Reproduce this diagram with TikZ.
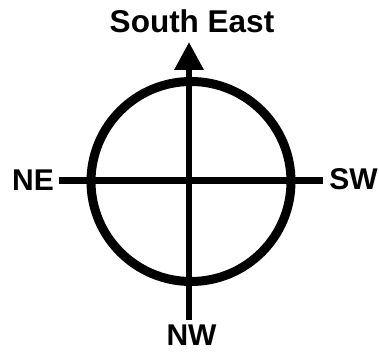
\documentclass[tikz,border=0pt]{standalone}
\usepackage{fontspec}
\setmainfont{Liberation Sans}
\usetikzlibrary{arrows.meta}
\begin{document}
\begin{tikzpicture}[x=1pt,y=1pt,
  lbl/.style={font=\fontsize{30}{30}\selectfont\bfseries, inner sep=0pt, anchor=base},
  axis/.style={line width=6.5pt}]
\useasboundingbox (0,0) rectangle (379,351);
\node[draw, circle, line width=9pt, minimum size=200pt, inner sep=0pt] (ring) at (191,169.5) {};
\coordinate (w) at (59,170.5);
\coordinate (e) at (323,170.5);
\coordinate (s) at (189,31);
\coordinate (n) at (189,309);
\draw[axis] (w) -- (e);
\draw[axis, -{Triangle[length=28pt,width=28pt]}] (s) -- (n);
\node[lbl, font=\fontsize{31.5}{31.5}\selectfont\bfseries] (se) at (192,318) {South East};
\node[lbl] (ne) at (33,161) {NE};
\node[lbl] (sw) at (353.5,162) {SW};
\node[lbl] (nw) at (191.5,6) {NW};
\end{tikzpicture}
\end{document}
